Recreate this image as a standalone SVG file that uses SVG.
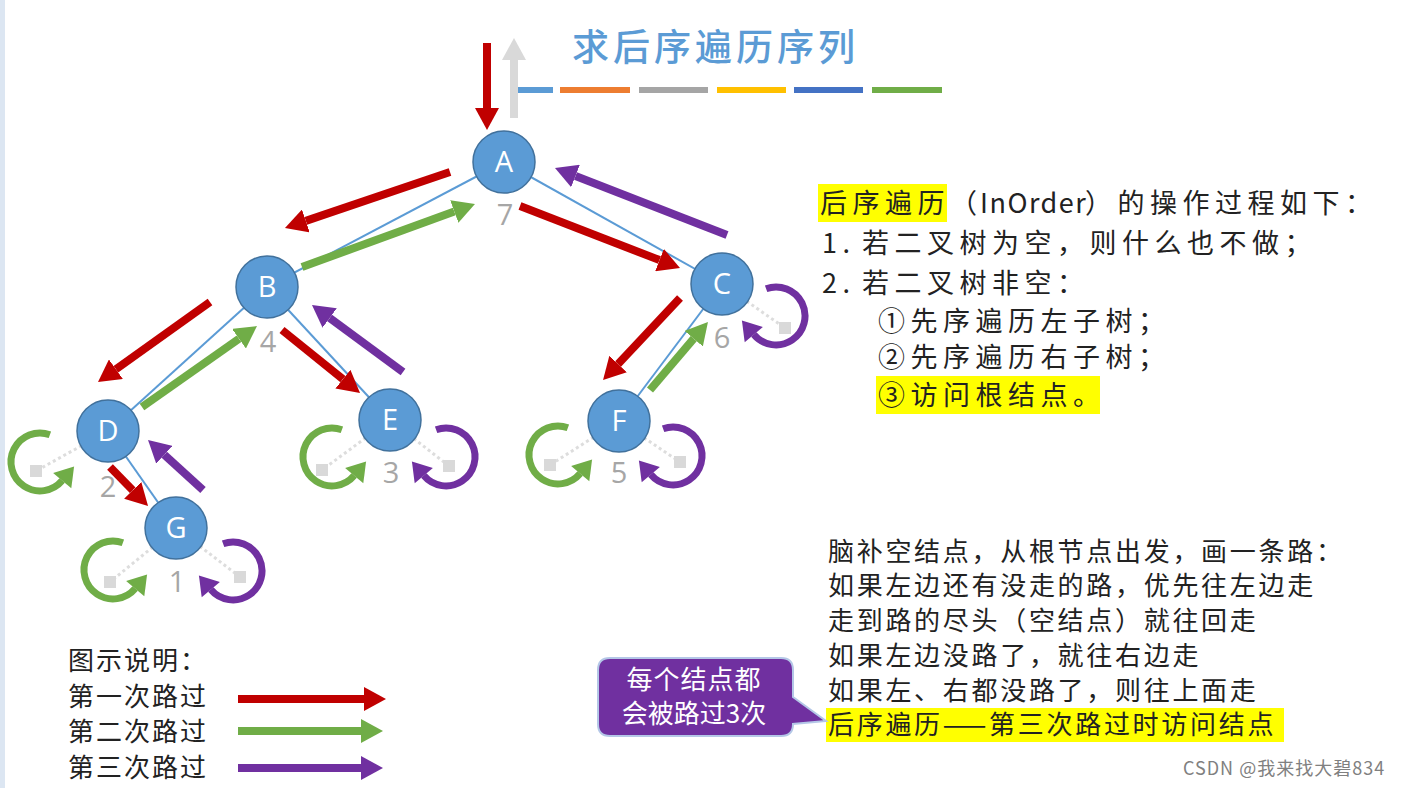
<svg xmlns="http://www.w3.org/2000/svg" xmlns:xlink="http://www.w3.org/1999/xlink" width="1407" height="788" viewBox="0 0 1407 788">
<style>
.edge{stroke:#5b9bd5;stroke-width:2;fill:none}
.nc{fill:#5b9bd5;stroke:#41719c;stroke-width:1.5}
.lbl{font-family:"Open Sans","Liberation Sans",sans-serif;font-size:29px;fill:#ffffff;text-anchor:middle}
.num{font-family:"Open Sans","Liberation Sans",sans-serif;font-size:29px;fill:#a6a6a6;text-anchor:middle}
.nl{stroke:#dddddd;stroke-width:3;stroke-dasharray:3 3;fill:none}
.nsq{fill:#d9d9d9}
.arr{stroke-width:8;fill:none}
.red{stroke:#c00000}
.green{stroke:#70ad47}
.purple{stroke:#7030a0}
.gray{stroke:#d9d9d9}
.cjk{font-family:"Noto Sans CJK SC","Noto Sans",sans-serif;fill:#222222}
.t1{font-size:27px;letter-spacing:5.5px}
.t2{font-size:26px;letter-spacing:2.7px}
.leg{font-size:26px;letter-spacing:2px}
</style>
<defs>
<marker id="hRed" markerUnits="userSpaceOnUse" viewBox="0 0 22 24" markerWidth="22" markerHeight="24" refX="0" refY="12" orient="auto"><path d="M0,0 L22,12 L0,24 Z" fill="#c00000"/></marker>
<marker id="hGreen" markerUnits="userSpaceOnUse" viewBox="0 0 22 24" markerWidth="22" markerHeight="24" refX="0" refY="12" orient="auto"><path d="M0,0 L22,12 L0,24 Z" fill="#70ad47"/></marker>
<marker id="hPurple" markerUnits="userSpaceOnUse" viewBox="0 0 22 24" markerWidth="22" markerHeight="24" refX="0" refY="12" orient="auto"><path d="M0,0 L22,12 L0,24 Z" fill="#7030a0"/></marker>
<marker id="hGray" markerUnits="userSpaceOnUse" viewBox="0 0 22 24" markerWidth="22" markerHeight="24" refX="0" refY="12" orient="auto"><path d="M0,0 L22,12 L0,24 Z" fill="#d9d9d9"/></marker>
<g id="loopL"><path d="M9.9,-27.3 A29,29 0 1 0 22.2,18.6" fill="none" stroke="#70ad47" stroke-width="7"/><polygon points="34.1,4.6 31.3,26.3 13.1,10.9" fill="#70ad47"/></g>
<g id="loopR"><path d="M-9.9,-27.3 A29,29 0 1 1 -22.2,18.6" fill="none" stroke="#7030a0" stroke-width="7"/><polygon points="-34.1,4.6 -31.3,26.3 -13.1,10.9" fill="#7030a0"/></g>
</defs>
<rect x="0" y="0" width="1407" height="788" fill="#ffffff"/>
<rect x="0" y="0" width="5" height="788" fill="#dce6f2"/>

<g id="title">
<text class="cjk" x="572" y="61" style="font-size:37px;letter-spacing:4px;fill:#5b9bd5;font-weight:500">求后序遍历序列</text>
<rect x="518" y="87" width="35" height="6" fill="#5b9bd5"/>
<rect x="560" y="87" width="70" height="6" fill="#ed7d31"/>
<rect x="639" y="87" width="69" height="6" fill="#a5a5a5"/>
<rect x="717" y="87" width="69" height="6" fill="#ffc000"/>
<rect x="794" y="87" width="69" height="6" fill="#4472c4"/>
<rect x="872" y="87" width="70" height="6" fill="#70ad47"/>
</g>

<g id="connectors">
<line class="edge" x1="504" y1="162" x2="267" y2="287"/>
<line class="edge" x1="504" y1="162" x2="722" y2="284"/>
<line class="edge" x1="267" y1="287" x2="108" y2="431"/>
<line class="edge" x1="267" y1="287" x2="390" y2="420"/>
<line class="edge" x1="722" y1="284" x2="619" y2="421"/>
<line class="edge" x1="108" y1="431" x2="176" y2="528"/>

<line class="arr red" x1="487" y1="43" x2="487" y2="108" marker-end="url(#hRed)"/>
<line class="arr gray" x1="514" y1="118" x2="514" y2="60" marker-end="url(#hGray)"/>

<line class="arr red" x1="450" y1="172" x2="305.8" y2="220.9" marker-end="url(#hRed)"/>
<line class="arr green" x1="302" y1="267" x2="454.3" y2="211.5" marker-end="url(#hGreen)"/>
<line class="arr red" x1="520" y1="206" x2="659.5" y2="260.1" marker-end="url(#hRed)"/>
<line class="arr purple" x1="727" y1="235" x2="575.5" y2="176" marker-end="url(#hPurple)"/>
<line class="arr red" x1="210" y1="302" x2="115.9" y2="369.2" marker-end="url(#hRed)"/>
<line class="arr green" x1="142" y1="407" x2="239" y2="338.7" marker-end="url(#hGreen)"/>
<line class="arr red" x1="282" y1="330" x2="342.9" y2="379.2" marker-end="url(#hRed)"/>
<line class="arr purple" x1="403" y1="372" x2="329.7" y2="318" marker-end="url(#hPurple)"/>
<line class="arr red" x1="680" y1="298" x2="618.1" y2="364" marker-end="url(#hRed)"/>
<line class="arr green" x1="650" y1="390" x2="693.7" y2="338.7" marker-end="url(#hGreen)"/>
<line class="arr red" x1="110" y1="467" x2="132.7" y2="490.3" marker-end="url(#hRed)"/>
<line class="arr purple" x1="203" y1="490" x2="164.3" y2="454.8" marker-end="url(#hPurple)"/>

<use xlink:href="#loopL" x="40" y="462"/>
<use xlink:href="#loopL" x="332" y="457"/>
<use xlink:href="#loopR" x="446" y="457"/>
<use xlink:href="#loopL" x="558" y="455"/>
<use xlink:href="#loopR" x="673" y="456"/>
<use xlink:href="#loopR" x="776" y="316"/>
<use xlink:href="#loopL" x="113" y="570"/>
<use xlink:href="#loopR" x="233" y="571"/>
</g>

<g id="node-A">
<circle class="nc" cx="504" cy="162" r="31"/>
<text class="lbl" x="504" y="172">A</text>
<text class="num" x="505" y="225">7</text>
</g>
<g id="node-B">
<circle class="nc" cx="267" cy="287" r="31"/>
<text class="lbl" x="267" y="297">B</text>
<text class="num" x="268" y="352">4</text>
</g>
<g id="node-C">
<line class="nl" x1="722" y1="284" x2="785" y2="328"/>
<rect class="nsq" x="779" y="322" width="12" height="12"/>
<circle class="nc" cx="722" cy="284" r="31"/>
<text class="lbl" x="722" y="294">C</text>
<text class="num" x="722" y="348">6</text>
</g>
<g id="node-D">
<line class="nl" x1="108" y1="431" x2="36" y2="471"/>
<rect class="nsq" x="30" y="465" width="12" height="12"/>
<circle class="nc" cx="108" cy="431" r="31"/>
<text class="lbl" x="108" y="441">D</text>
<text class="num" x="108" y="497">2</text>
</g>
<g id="node-E">
<line class="nl" x1="390" y1="420" x2="322" y2="470"/>
<line class="nl" x1="390" y1="420" x2="449" y2="466"/>
<rect class="nsq" x="316" y="464" width="12" height="12"/>
<rect class="nsq" x="443" y="460" width="12" height="12"/>
<circle class="nc" cx="390" cy="420" r="31"/>
<text class="lbl" x="390" y="430">E</text>
<text class="num" x="391" y="483">3</text>
</g>
<g id="node-F">
<line class="nl" x1="619" y1="421" x2="550" y2="465"/>
<line class="nl" x1="619" y1="421" x2="680" y2="462"/>
<rect class="nsq" x="544" y="459" width="12" height="12"/>
<rect class="nsq" x="674" y="456" width="12" height="12"/>
<circle class="nc" cx="619" cy="421" r="31"/>
<text class="lbl" x="619" y="431">F</text>
<text class="num" x="619" y="483">5</text>
</g>
<g id="node-G">
<line class="nl" x1="176" y1="528" x2="110" y2="582"/>
<line class="nl" x1="176" y1="528" x2="240" y2="577"/>
<rect class="nsq" x="104" y="576" width="12" height="12"/>
<rect class="nsq" x="234" y="571" width="12" height="12"/>
<circle class="nc" cx="176" cy="528" r="31"/>
<text class="lbl" x="176" y="538">G</text>
<text class="num" x="177" y="592">1</text>
</g>

<g id="rules">
<rect x="818" y="184" width="129" height="38" fill="#ffff00"/>
<rect x="876" y="376" width="224" height="38" fill="#ffff00"/>
<text class="cjk t1" x="820" y="213">后序遍历（<tspan x="980" style="letter-spacing:1.5px">InOrder</tspan><tspan x="1085">）的操作过程如下：</tspan></text>
<text class="cjk t1" x="822" y="253">1.<tspan x="862">若二叉树为空，则什么也不做；</tspan></text>
<text class="cjk t1" x="822" y="293">2.<tspan x="862">若二叉树非空：</tspan></text>
<text class="cjk t1" x="878" y="331">①先序遍历左子树；</text>
<text class="cjk t1" x="878" y="367">②先序遍历右子树；</text>
<text class="cjk t1" x="878" y="405">③访问根结点。</text>
</g>

<g id="notes">
<rect x="826" y="708" width="458" height="34" fill="#ffff00"/>
<text class="cjk t2" x="828" y="561">脑补空结点，从根节点出发，画一条路：</text>
<text class="cjk t2" x="828" y="595">如果左边还有没走的路，优先往左边走</text>
<text class="cjk t2" x="828" y="630">走到路的尽头（空结点）就往回走</text>
<text class="cjk t2" x="828" y="665">如果左边没路了，就往右边走</text>
<text class="cjk t2" x="828" y="700">如果左、右都没路了，则往上面走</text>
<text class="cjk t2" x="828" y="734">后序遍历——第三次路过时访问结点</text>
</g>

<g id="callout">
<path d="M610,658 H781 Q793,658 793,670 V697 L826,721 L793,724 Q793,736 781,736 H610 Q598,736 598,724 V670 Q598,658 610,658 Z" fill="#7030a0" stroke="#b4c7e7" stroke-width="2"/>
<text class="cjk" x="694" y="689" style="font-size:26px;fill:#ffffff;text-anchor:middle;letter-spacing:1px">每个结点都</text>
<text class="cjk" x="694" y="723" style="font-size:26px;fill:#ffffff;text-anchor:middle;letter-spacing:0px">会被路过3次</text>
</g>

<g id="legend">
<text class="cjk leg" x="68" y="670">图示说明：</text>
<text class="cjk leg" x="68" y="706">第一次路过</text>
<text class="cjk leg" x="68" y="741">第二次路过</text>
<text class="cjk leg" x="68" y="777">第三次路过</text>
<line class="arr red" x1="238" y1="699" x2="364" y2="699" marker-end="url(#hRed)"/>
<line class="arr green" x1="238" y1="731" x2="361" y2="731" marker-end="url(#hGreen)"/>
<line class="arr purple" x1="238" y1="768" x2="361" y2="768" stroke-width="7" marker-end="url(#hPurple)"/>
</g>

<text class="cjk" x="1183" y="775" style="font-size:18px;letter-spacing:1px;fill:#808080">CSDN @我来找大碧834</text>
</svg>
